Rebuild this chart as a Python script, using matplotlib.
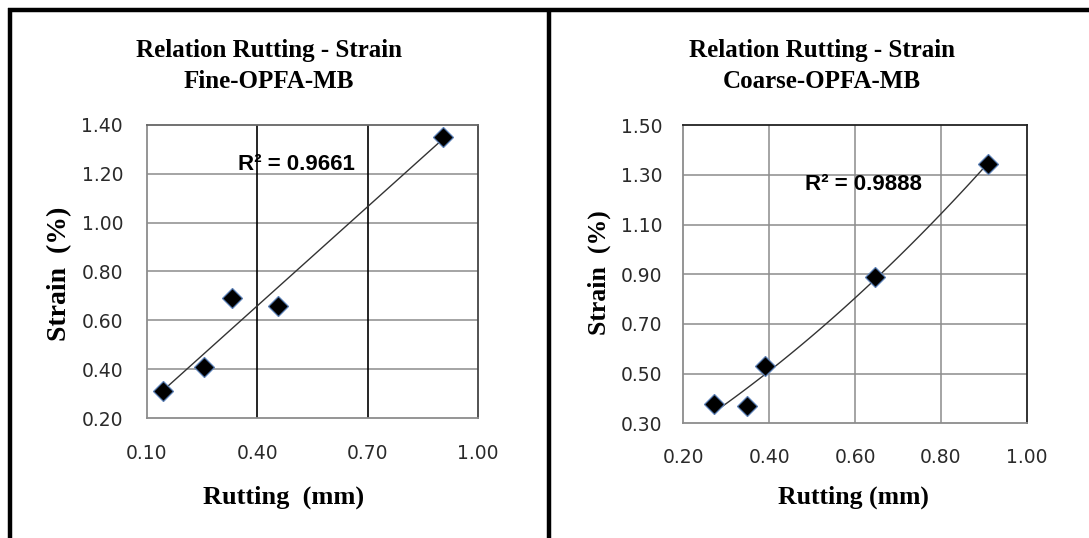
import numpy as np
import matplotlib
matplotlib.use("Agg")
import matplotlib.pyplot as plt
from matplotlib.lines import Line2D

# ---- data ----
fine_rutting = [0.145, 0.255, 0.332, 0.457, 0.904]
fine_strain = [0.31, 0.41, 0.69, 0.66, 1.35]
fine_r2 = "0.9661"

coarse_rutting = [0.272, 0.348, 0.390, 0.647, 0.911]
coarse_strain = [0.376, 0.370, 0.530, 0.890, 1.346]
coarse_r2 = "0.9888"

fine_xticks = [0.10, 0.40, 0.70, 1.00]
fine_yticks = [0.20, 0.40, 0.60, 0.80, 1.00, 1.20, 1.40]
coarse_xticks = [0.20, 0.40, 0.60, 0.80, 1.00]
coarse_yticks = [0.30, 0.50, 0.70, 0.90, 1.10, 1.30, 1.50]

W, H = 1089, 538
fig = plt.figure(figsize=(W / 100, H / 100), dpi=100)

def px_axes(x0, y0, x1, y1):
    return fig.add_axes([x0 / W, 1 - y1 / H, (x1 - x0) / W, (y1 - y0) / H])

def ftext(x, y, s, **kw):
    fig.text(x / W, 1 - y / H, s, **kw)

serif = "Liberation Serif"
tick_font = "DejaVu Sans"

def style(ax, xt, yt, ypad, xpad, dark_v=None, dark_top=False):
    ax.set_xlim(xt[0], xt[-1])
    ax.set_ylim(yt[0], yt[-1])
    ax.set_xticks(xt)
    ax.set_yticks(yt)
    ax.set_xticklabels([f"{v:.2f}" for v in xt])
    ax.set_yticklabels([f"{v:.2f}" for v in yt])
    for lab in ax.get_xticklabels() + ax.get_yticklabels():
        lab.set_fontfamily(tick_font)
        lab.set_fontsize(13.5)
        lab.set_color("#2a2a2a")
    ax.tick_params(axis="both", length=0)
    ax.tick_params(axis="y", pad=ypad)
    ax.tick_params(axis="x", pad=xpad)
    for v in yt[1:-1]:
        ax.axhline(v, color="#8c8c8c", lw=1.1, zorder=1)
    for v in xt[1:-1]:
        c = "#000000" if dark_v else "#8c8c8c"
        ax.axvline(v, color=c, lw=1.2 if dark_v else 1.1, zorder=1)
    for s in ax.spines.values():
        s.set_color("#8c8c8c")
        s.set_linewidth(1.3)
    if dark_top:
        ax.spines["top"].set_color("#222222")
        ax.spines["right"].set_color("#222222")
    else:
        ax.spines["top"].set_color("#666666")
        ax.spines["right"].set_color("#444444")

# ---- left: Fine ----
ax1 = px_axes(146.7, 125, 478, 418)
style(ax1, fine_xticks, fine_yticks, ypad=17, xpad=19, dark_v=True)
fx = np.array(fine_rutting)
fy = np.array(fine_strain)
c1 = np.polyfit(fx, fy, 1)
xx = np.linspace(fx.min(), fx.max(), 100)
ax1.plot(xx, np.polyval(c1, xx), color="#333333", lw=1.0, zorder=2)
ax1.plot(fx, fy, "D", ms=10, mfc="black", mec="#5a7fb5", mew=0.9, zorder=3)

# ---- right: Coarse ----
ax2 = px_axes(683.3, 125.3, 1026.7, 423.3)
style(ax2, coarse_xticks, coarse_yticks, ypad=15, xpad=18, dark_v=False, dark_top=True)
cx = np.array(coarse_rutting)
cy = np.array(coarse_strain)
c2 = np.polyfit(cx, cy, 2)
xx2 = np.linspace(cx.min(), cx.max(), 100)
ax2.plot(xx2, np.polyval(c2, xx2), color="#333333", lw=1.0, zorder=2)
ax2.plot(cx, cy, "D", ms=10, mfc="black", mec="#5a7fb5", mew=0.9, zorder=3)

# ---- titles & labels ----
for cxp, sub in [(269, "Fine-OPFA-MB"), (822, "Coarse-OPFA-MB")]:
    ftext(cxp, 50, "Relation Rutting - Strain", ha="center", va="center",
          fontfamily=serif, fontweight="bold", fontsize=18)
    ftext(cxp, 82, sub, ha="center", va="center",
          fontfamily=serif, fontweight="bold", fontsize=18)

ftext(284, 497, "Rutting  (mm)", ha="center", va="center",
      fontfamily=serif, fontweight="bold", fontsize=19)
ftext(853, 497, "Rutting (mm)", ha="center", va="center",
      fontfamily=serif, fontweight="bold", fontsize=18.5)
ftext(60, 274, "Strain  (%)", ha="center", va="center", rotation=90,
      fontfamily=serif, fontweight="bold", fontsize=20)
ftext(599, 273, "Strain  (%)", ha="center", va="center", rotation=90,
      fontfamily=serif, fontweight="bold", fontsize=18.5)

r2font = ["Liberation Sans Narrow", "Liberation Sans"]
ftext(238, 165, "R² = " + fine_r2, ha="left", va="center",
      fontfamily=r2font, fontweight="bold", fontsize=16)
ftext(805, 185, "R² = " + coarse_r2, ha="left", va="center",
      fontfamily=r2font, fontweight="bold", fontsize=16)

# ---- panel borders ----
def fig_line(xs, ys, lw=3.2):
    fig.add_artist(Line2D([x / W for x in xs], [1 - y / H for y in ys],
                          color="black", lw=lw, solid_capstyle="butt"))

fig_line([8, W], [10, 10])
fig_line([10, 10], [8, H])
fig_line([549, 549], [8, H])

fig.savefig("out.png", dpi=100, facecolor="white")
